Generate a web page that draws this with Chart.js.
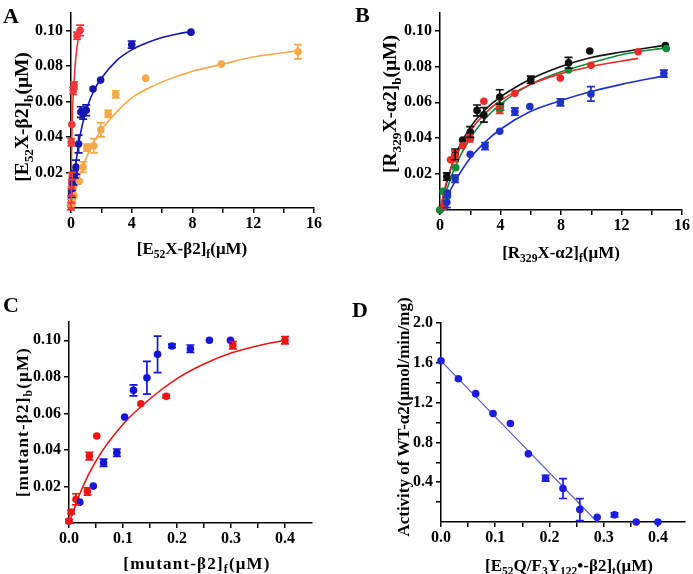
<!DOCTYPE html>
<html lang="en">
<head>
<meta charset="UTF-8">
<title>Binding curves</title>
<script src="https://cdn.jsdelivr.net/npm/chart.js"></script>
<style>
  body { margin: 0; background: #fff; width: 693px; height: 574px; position: relative; overflow: hidden;
         font-family: 'Liberation Serif', 'Times New Roman', serif; color: #000; }
  canvas { position: absolute; }
  .lbl { position: absolute; font-weight: bold; font-size: 17px; white-space: nowrap; line-height: 1;
         transform: translate(-50%, -50%); }
  .ylbl { transform: translate(-50%, -50%) rotate(-90deg); }
  .big { font-size: 19.5px; }
  .spaced { letter-spacing: 1.2px; }
  .letter { position: absolute; font-weight: bold; font-size: 22px; line-height: 1; }
  sub { font-size: 68%; vertical-align: -0.35em; line-height: 0; }
</style>
</head>
<body>
<canvas id="chartA" width="340" height="290" style="left:0;top:0"></canvas>
<canvas id="chartB" width="353" height="290" style="left:340px;top:0"></canvas>
<canvas id="chartC" width="340" height="284" style="left:0;top:290px"></canvas>
<canvas id="chartD" width="353" height="284" style="left:340px;top:290px"></canvas>

<div class="letter" style="left:3px;top:5px">A</div>
<div class="letter" style="left:355px;top:4px">B</div>
<div class="letter" style="left:3px;top:294px">C</div>
<div class="letter" style="left:352px;top:299px">D</div>

<div class="lbl ylbl big" style="left:22px;top:117px">[E<sub>52</sub>X-β2]<sub>b</sub>(μM)</div>
<div class="lbl" style="left:192px;top:248px">[E<sub>52</sub>X-β2]<sub>f</sub>(μM)</div>
<div class="lbl ylbl big" style="left:390px;top:104px">[R<sub>329</sub>X-α2]<sub>b</sub>(μM)</div>
<div class="lbl" style="left:561px;top:252px">[R<sub>329</sub>X-α2]<sub>f</sub>(μM)</div>
<div class="lbl ylbl spaced" style="left:22px;top:422px">[mutant-β2]<sub>b</sub>(μM)</div>
<div class="lbl spaced" style="left:197px;top:563px">[mutant-β2]<sub>f</sub>(μM)</div>
<div class="lbl ylbl" style="left:403px;top:417px">Activity of WT-α2(μmol/min/mg)</div>
<div class="lbl" style="left:569px;top:565px">[E<sub>52</sub>Q/F<sub>3</sub>Y<sub>122</sub>•-β2]<sub>t</sub>(μM)</div>

<script>
// ---- panel A: [x, y] points, error half-widths, fitted curves ----
const aRedPts = [[0,0.001],[0.02,0.005],[0.03,0.009],[0.05,0.014],[0.08,0.018],[0.02,0.037],[0.05,0.047],[0.15,0.066],[0.2,0.069],[0.4,0.097],[0.6,0.1]];
const aRedErr = [0.002,0.002,0.002,0.002,0.002,0.002,0,0.002,0.002,0.002,0.003];
const aRedFit = [[0,0],[0.02,0.02],[0.05,0.038],[0.1,0.054],[0.15,0.064],[0.2,0.071],[0.3,0.083],[0.4,0.091],[0.5,0.096],[0.65,0.1]];
const aBluePts = [[0.05,0.008],[0.15,0.015],[0.25,0.019],[0.33,0.023],[0.5,0.036],[0.65,0.054],[0.8,0.053],[1.0,0.055],[1.45,0.067],[1.95,0.072],[4.0,0.092],[7.9,0.099]];
const aBlueErr = [0.002,0.002,0.002,0.004,0.005,0.003,0.003,0.003,0,0,0.002,0];
const aBlueFit = [[0,0],[0.25,0.02],[0.5,0.036],[0.75,0.047],[1,0.055],[1.5,0.066],[2,0.073],[3,0.083],[4,0.089],[5,0.093],[6,0.096],[7,0.098],[8,0.0995]];
const aOrangePts = [[0.08,0.003],[0.2,0.007],[0.55,0.015],[0.8,0.023],[1.05,0.034],[1.5,0.035],[1.97,0.044],[2.45,0.053],[2.95,0.064],[4.92,0.073],[9.9,0.081],[14.95,0.088]];
const aOrangeErr = [0.002,0,0,0.003,0.002,0.004,0.004,0.002,0.002,0,0,0.004];
const aOrangeFit = [[0,0],[0.5,0.016],[1,0.028],[1.5,0.037],[2,0.044],[3,0.054],[4,0.062],[5,0.067],[6,0.071],[8,0.077],[10,0.081],[12,0.085],[15,0.0885]];

// ---- panel B ----
const bBlackPts = [[0,0],[0.45,0.0187],[1.0,0.031],[1.5,0.039],[2.0,0.0435],[2.45,0.0555],[2.9,0.053],[3.95,0.063],[6.0,0.0726],[8.5,0.082],[9.9,0.0886],[14.9,0.0917]];
const bBlackErr = [0,0.002,0.003,0,0.003,0.003,0.004,0.004,0.002,0.003,0,0];
const bBlackFit = [[0,0],[0.5,0.017],[1,0.03],[2,0.046],[3,0.056],[4,0.063],[6,0.073],[8,0.08],[10,0.085],[12,0.088],[15,0.092]];
const bRedPts = [[0.3,0.002],[0.7,0.028],[1.0,0.03],[1.5,0.0358],[1.95,0.04],[2.9,0.0606],[3.95,0.0558],[4.95,0.065],[7.95,0.0735],[9.98,0.0807],[13.1,0.0882]];
const bRedErr = [0,0,0.003,0,0.002,0,0.002,0,0,0,0];
const bRedFit = [[0,0],[0.5,0.018],[1,0.029],[2,0.044],[3,0.054],[4,0.061],[6,0.07],[8,0.076],[10,0.08],[13.1,0.0845]];
const bGreenPts = [[0,0],[0.2,0.0104],[0.5,0.0076],[1.04,0.0236],[2.0,0.0398],[4.0,0.0577],[8.5,0.078],[14.96,0.09]];
const bGreenErr = [0,0,0,0,0,0.002,0,0];
const bGreenFit = [[0,0],[1,0.024],[2,0.04],[3,0.051],[4,0.059],[6,0.07],[8,0.077],[10,0.082],[12,0.0865],[15,0.0905]];
const bBluePts = [[0.45,0.0043],[0.5,0.0095],[1.0,0.0174],[2.0,0.031],[2.98,0.0356],[3.95,0.0439],[4.95,0.0549],[5.94,0.0577],[7.96,0.06],[9.98,0.0647],[14.8,0.076]];
const bBlueErr = [0.003,0,0.002,0,0.002,0,0.002,0,0.002,0.004,0.002];
const bBlueFit = [[0,0],[0.5,0.008],[1,0.016],[2,0.029],[3,0.038],[4,0.045],[6,0.055],[8,0.061],[10,0.066],[12,0.07],[15,0.075]];

// ---- panel C ----
const cBluePts = [[0.02,0.0114],[0.045,0.0202],[0.064,0.033],[0.0886,0.0385],[0.103,0.058],[0.1195,0.0726],[0.1443,0.0795],[0.164,0.0923],[0.1907,0.0969],[0.2248,0.0954],[0.26,0.1],[0.299,0.1]];
const cBlueErr = [0,0,0.002,0.002,0,0.003,0.009,0.01,0.001,0.002,0,0];
const cRedPts = [[0,0.001],[0.004,0.006],[0.013,0.013],[0.034,0.0173],[0.0377,0.0366],[0.0514,0.0476],[0.133,0.0653],[0.18,0.0693],[0.3034,0.0973],[0.4,0.1]];
const cRedErr = [0.001,0.001,0.003,0.002,0.002,0,0,0.001,0.002,0.002];
const cRedFit = [[0,0],[0.01,0.008],[0.02,0.016],[0.05,0.034],[0.1,0.054],[0.15,0.068],[0.2,0.079],[0.25,0.087],[0.3,0.093],[0.35,0.097],[0.4,0.1]];

// ---- panel D ----
const dPts = [[0,1.62],[0.032,1.44],[0.064,1.29],[0.096,1.09],[0.128,0.99],[0.161,0.685],[0.193,0.44],[0.225,0.336],[0.256,0.125],[0.288,0.048],[0.32,0.072],[0.36,0],[0.4,0]];
const dErr = [0,0,0,0,0,0,0.03,0.1,0.11,0,0.02,0,0];
const dLine = [[0,1.62],[0.288,0]];

// ---- ticks ----
const ticks16 = [0,2,4,6,8,10,12,14,16];
const labels16 = [0,4,8,12,16];
const ticksConc = [0.02,0.04,0.06,0.08,0.1];
const ticksFrac = [0,0.05,0.1,0.15,0.2,0.25,0.3,0.35,0.4];
const labelsFrac = [0,0.1,0.2,0.3,0.4];
const ticksAct = [0.2,0.4,0.6,0.8,1.0,1.2,1.4,1.6,1.8,2.0];
const labelsAct = [0.4,0.8,1.2,1.6,2.0];

const tickFont = { family: "'Liberation Serif', 'Times New Roman', serif", size: 16, weight: 'bold' };

function scaleOpts(min, max, allTicks, labelled, digits, size, isX) {
  return {
    type: 'linear', min: min, max: max,
    afterBuildTicks: s => { s.ticks = allTicks.map(v => ({ value: v })); },
    afterFit: s => { if (isX) s.height = size; else s.width = size; },
    ticks: {
      autoSkip: false, maxRotation: 0, color: '#000', font: tickFont, padding: isX ? 1 : 3,
      callback: v => labelled.some(l => Math.abs(l - v) < 1e-9) ? v.toFixed(digits) : ''
    },
    grid: { drawOnChartArea: false, drawTicks: true, tickLength: 5, color: '#000', lineWidth: 1.5 },
    border: { display: true, color: '#000', width: 1.5 }
  };
}

function pts(arr, color, errs) {
  return {
    data: arr.map(p => ({ x: p[0], y: p[1] })), errs: errs,
    backgroundColor: color, borderColor: color, pointRadius: 3.8, pointBorderWidth: 0,
    showLine: false, clip: false, order: 0
  };
}

function fit(arr, color, width) {
  return {
    data: arr.map(p => ({ x: p[0], y: p[1] })),
    borderColor: color, borderWidth: width || 1.6, pointRadius: 0, showLine: true,
    cubicInterpolationMode: 'monotone', fill: false, order: 1
  };
}

// draws vertical error bars with caps from each dataset's errs array
const errorBars = {
  id: 'errorBars',
  afterDatasetsDraw(chart) {
    const ctx = chart.ctx, ys = chart.scales.y;
    chart.data.datasets.forEach((ds, i) => {
      if (!ds.errs) return;
      const meta = chart.getDatasetMeta(i);
      ctx.save();
      ctx.strokeStyle = ds.borderColor;
      ctx.lineWidth = 1.7;
      meta.data.forEach((pt, j) => {
        const e = ds.errs[j];
        if (!e) return;
        const y0 = ys.getPixelForValue(ds.data[j].y - e);
        const y1 = ys.getPixelForValue(ds.data[j].y + e);
        ctx.beginPath();
        ctx.moveTo(pt.x, y0); ctx.lineTo(pt.x, y1);
        ctx.moveTo(pt.x - 4, y0); ctx.lineTo(pt.x + 4, y0);
        ctx.moveTo(pt.x - 4, y1); ctx.lineTo(pt.x + 4, y1);
        ctx.stroke();
      });
      ctx.restore();
    });
  }
};

function makeChart(id, datasets, xScale, yScale, padding) {
  return new Chart(document.getElementById(id), {
    type: 'scatter',
    data: { datasets: datasets },
    options: {
      responsive: false, animation: false,
      layout: { padding: padding },
      plugins: { legend: { display: false }, tooltip: { enabled: false } },
      scales: { x: xScale, y: yScale }
    },
    plugins: [errorBars]
  });
}

const red = '#f2383c', blue = '#1616b0', orange = '#f8a848';
makeChart('chartA', [
  fit(aOrangeFit, orange), fit(aBlueFit, blue), fit(aRedFit, red),
  pts(aOrangePts, orange, aOrangeErr), pts(aBluePts, blue, aBlueErr), pts(aRedPts, red, aRedErr)
], scaleOpts(0, 16, ticks16, labels16, 0, 82, true),
   scaleOpts(0, 0.11, ticksConc, ticksConc, 2, 71, false),
   { top: 8, right: 26, left: 0, bottom: 0 });

const bBlack = '#111111', bRed = '#ee2a26', bGreen = '#12883a', bBlue = '#1e32c8';
makeChart('chartB', [
  fit(bBlueFit, bBlue), fit(bRedFit, bRed), fit(bGreenFit, bGreen), fit(bBlackFit, bBlack),
  pts(bBluePts, bBlue, bBlueErr), pts(bRedPts, bRed, bRedErr), pts(bGreenPts, bGreen, bGreenErr), pts(bBlackPts, bBlack, bBlackErr)
], scaleOpts(0, 16, ticks16, labels16, 0, 80, true),
   scaleOpts(0, 0.11, ticksConc, ticksConc, 2, 100, false),
   { top: 12, right: 11, left: 0, bottom: 0 });

const cBlue = '#1414e0', cRed = '#f01414';
makeChart('chartC', [
  fit(cRedFit, cRed),
  pts(cBluePts, cBlue, cBlueErr), pts(cRedPts, cRed, cRedErr)
], scaleOpts(0, 0.45, ticksFrac, labelsFrac, 1, 51, true),
   scaleOpts(0, 0.11, ticksConc, ticksConc, 2, 69, false),
   { top: 32, right: 28, left: 0, bottom: 0 });

const dBlue = '#1c1ce4', dLineCol = '#5a5ad8';
makeChart('chartD', [
  fit(dLine, dLineCol, 1.2),
  pts(dPts, dBlue, dErr)
], scaleOpts(0, 0.45, ticksFrac, labelsFrac, 1, 52, true),
   scaleOpts(0, 2.0, ticksAct, labelsAct, 1, 101, false),
   { top: 33, right: 8, left: 0, bottom: 0 });
</script>
</body>
</html>
